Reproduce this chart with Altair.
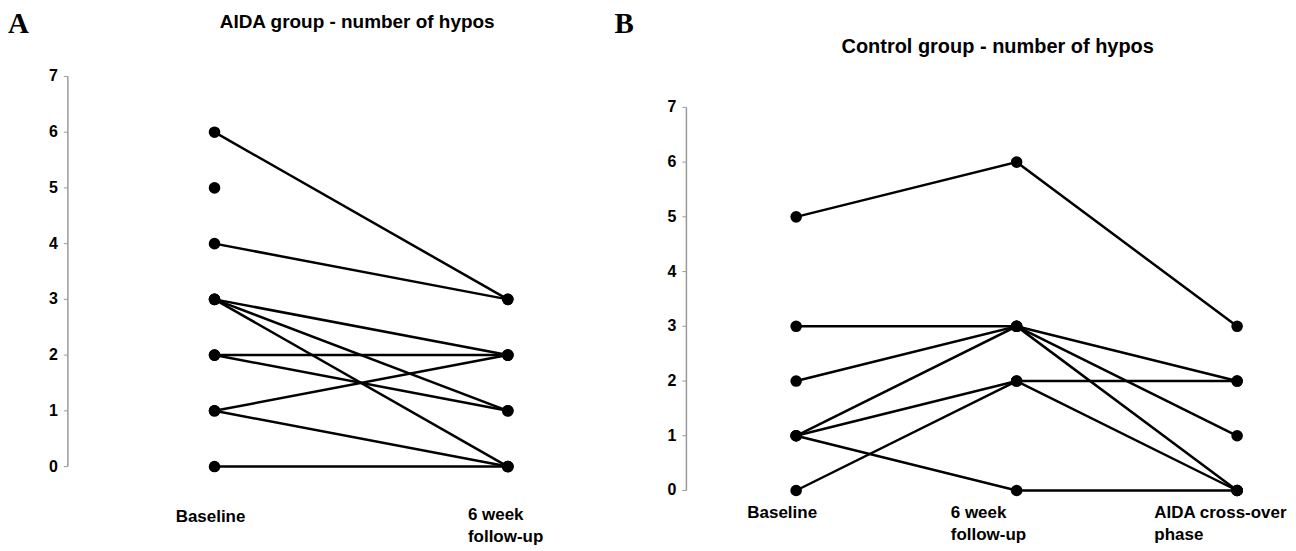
import altair as alt
import pandas as pd

# ---------------- data ----------------
a_times = ["Baseline", "6 week\nfollow-up"]
a_baseline = [6, 5, 4, 3, 3, 3, 2, 2, 1, 1, 0]
a_followup = [3, None, 3, 2, 1, 0, 2, 1, 2, 0, 0]

b_times = ["Baseline", "6 week\nfollow-up", "AIDA cross-over\nphase"]
b_baseline = [5, 3, 2, 1, 1, 0, 1]
b_week6 = [6, 3, 3, 3, 2, 2, 0]
b_crossover = [3, 2, 1, 0, 2, 0, 0]

y_ticks = [0, 1, 2, 3, 4, 5, 6, 7]

a_title = "AIDA group - number of hypos"
b_title = "Control group - number of hypos"


def long_df(series_list):
    rows = []
    for subj, vals in enumerate(zip(*series_list)):
        for t, v in enumerate(vals):
            if v is not None:
                rows.append({"subject": subj, "t": t, "v": v})
    return pd.DataFrame(rows)


df_a = long_df([a_baseline, a_followup])
df_b = long_df([b_baseline, b_week6, b_crossover])

FONT = "Liberation Sans"
SERIF = "Liberation Serif"


def panel(df, times, xdom, ydom, width, height, axis_x, title, title_xy, title_size,
          letter, letter_xy, label_specs):
    xs = alt.Scale(domain=xdom, nice=False, zero=False)
    ys = alt.Scale(domain=ydom, nice=False, zero=False)
    X = alt.X("t:Q", scale=xs, axis=None)
    Y = alt.Y("v:Q", scale=ys, axis=None)

    base = alt.Chart(df)
    lines = base.mark_line(color="black", strokeWidth=2.5).encode(
        x=X, y=Y, detail="subject:N", order="t:Q")
    pts = base.mark_point(filled=True, color="black", opacity=1, size=135).encode(x=X, y=Y)

    tick_df = pd.DataFrame({"v": y_ticks})
    axis_line = alt.Chart(pd.DataFrame({"v": [min(y_ticks)], "v2": [max(y_ticks)]})).mark_rule(
        color="#9a9a9a", strokeWidth=1.5).encode(x=alt.value(axis_x), y=Y, y2="v2:Q")
    ticks = alt.Chart(tick_df).mark_rule(color="#9a9a9a", strokeWidth=1).encode(
        x=alt.value(axis_x - 4), x2=alt.value(axis_x), y=Y)
    tick_labels = alt.Chart(tick_df).mark_text(
        align="right", baseline="middle", font=FONT, fontWeight="bold", fontSize=16,
        color="black").encode(x=alt.value(axis_x - 10), y=Y, text="v:Q")

    title_mark = alt.Chart(pd.DataFrame({"s": [title]})).mark_text(
        align="center", baseline="middle", font=FONT, fontWeight="bold",
        fontSize=title_size, color="black").encode(
        x=alt.value(title_xy[0]), y=alt.value(title_xy[1]), text="s:N")
    letter_mark = alt.Chart(pd.DataFrame({"s": [letter]})).mark_text(
        align="left", baseline="middle", font=SERIF, fontWeight="bold",
        fontSize=29, color="black").encode(
        x=alt.value(letter_xy[0]), y=alt.value(letter_xy[1]), text="s:N")

    lab_df = pd.DataFrame({"t": list(range(len(times))), "label": times})
    label_layers = []
    for k, (align, dx, ytop) in enumerate(label_specs):
        label_layers.append(
            alt.Chart(lab_df).transform_filter(alt.datum.t == k).mark_text(
                align=align, baseline="top", dx=dx, lineBreak="\n", lineHeight=22,
                font=FONT, fontWeight="bold", fontSize=17, color="black").encode(
                x=X, y=alt.value(ytop), text="label:N"))

    return alt.layer(axis_line, ticks, tick_labels, lines, pts, title_mark, letter_mark,
                     *label_layers).properties(width=width, height=height)


H = 533  # plot area height (page y 8 .. 541)

# Panel A: local = page - 8
WA = 600
ax0, axs = 207, 294
ay0, ays = 459, 55.86
xdom_a = [-ax0 / axs, (WA - ax0) / axs]
ydom_a = [(ay0 - H) / ays, ay0 / ays]
panel_a = panel(df_a, a_times, xdom_a, ydom_a, WA, H, 60, a_title, (350, 13), 19,
                "A", (0, 15), [("center", -4, 502), ("left", -40, 500)])

# Panel B: local x = page x - 608, local y = page y - 8
WB = 680
bx0, bxs = 190, 221
by0, bys = 483, 54.86
xdom_b = [-bx0 / bxs, (WB - bx0) / bxs]
ydom_b = [(by0 - H) / bys, by0 / bys]
panel_b = panel(df_b, b_times, xdom_b, ydom_b, WB, H, 80, b_title, (392, 38), 20,
                "B", (8, 15), [("center", -14, 498), ("left", -66, 498),
                               ("left", -83, 498)])

chart = alt.hconcat(panel_a, panel_b, spacing=0, bounds="flush").properties(
    padding=0).configure_view(stroke=None)

chart.save("out.html", embed_options={"renderer": "svg", "actions": False})
